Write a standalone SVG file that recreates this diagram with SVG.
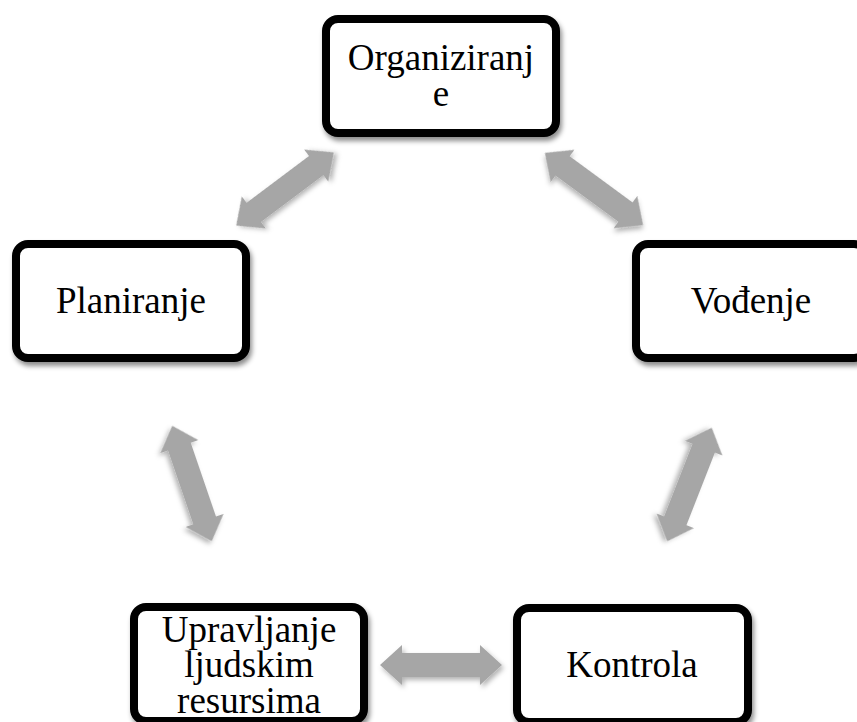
<svg xmlns="http://www.w3.org/2000/svg" width="857" height="722" viewBox="0 0 857 722">
<defs>
<filter id="sh" x="-20%" y="-20%" width="140%" height="150%">
<feDropShadow dx="2" dy="4" stdDeviation="2.5" flood-color="#000" flood-opacity="0.45"/>
</filter>
<filter id="ash" x="-30%" y="-60%" width="160%" height="220%">
<feDropShadow dx="2" dy="3" stdDeviation="2.5" flood-color="#000" flood-opacity="0.3"/>
</filter>
<polygon id="arr" points="-61,0 -39,-20 -39,-12 39,-12 39,-20 61,0 39,20 39,12 -39,12 -39,20"/>
</defs>
<style>
.box{fill:#fff;stroke:#000;stroke-width:8;filter:url(#sh)}
.lbl{font-family:"Liberation Serif","Times New Roman",serif;font-size:37px;fill:#000;text-anchor:middle}
.arrow{fill:#A6A6A6;filter:url(#ash)}
</style>
<rect width="857" height="722" fill="#fff"/>
<g id="connectors">
<use href="#arr" class="arrow" transform="translate(285,189) rotate(-36.87)"/>
<use href="#arr" class="arrow" transform="translate(594,189) rotate(36.3)"/>
<use href="#arr" class="arrow" transform="translate(192,483.5) rotate(71.1)"/>
<use href="#arr" class="arrow" transform="translate(689.5,484.5) rotate(111.4)"/>
<use href="#arr" class="arrow" transform="translate(441,665)"/>
</g>
<g id="organiziranje">
<rect class="box" x="326" y="19" width="230" height="114" rx="12"/>
<text class="lbl" x="441" y="70">Organiziranj</text>
<text class="lbl" x="441" y="106">e</text>
</g>
<g id="planiranje">
<rect class="box" x="16" y="244" width="230" height="114" rx="12"/>
<text class="lbl" x="131" y="313">Planiranje</text>
</g>
<g id="vodjenje">
<rect class="box" x="636" y="244" width="230" height="114" rx="12"/>
<text class="lbl" x="751" y="313">Vođenje</text>
</g>
<g id="upravljanje">
<rect class="box" x="134" y="607" width="230" height="114" rx="12"/>
<text class="lbl" x="249" y="642">Upravljanje</text>
<text class="lbl" x="249" y="677">ljudskim</text>
<text class="lbl" x="249" y="713">resursima</text>
</g>
<g id="kontrola">
<rect class="box" x="517" y="608" width="231" height="114" rx="12"/>
<text class="lbl" x="632" y="677">Kontrola</text>
</g>
</svg>
